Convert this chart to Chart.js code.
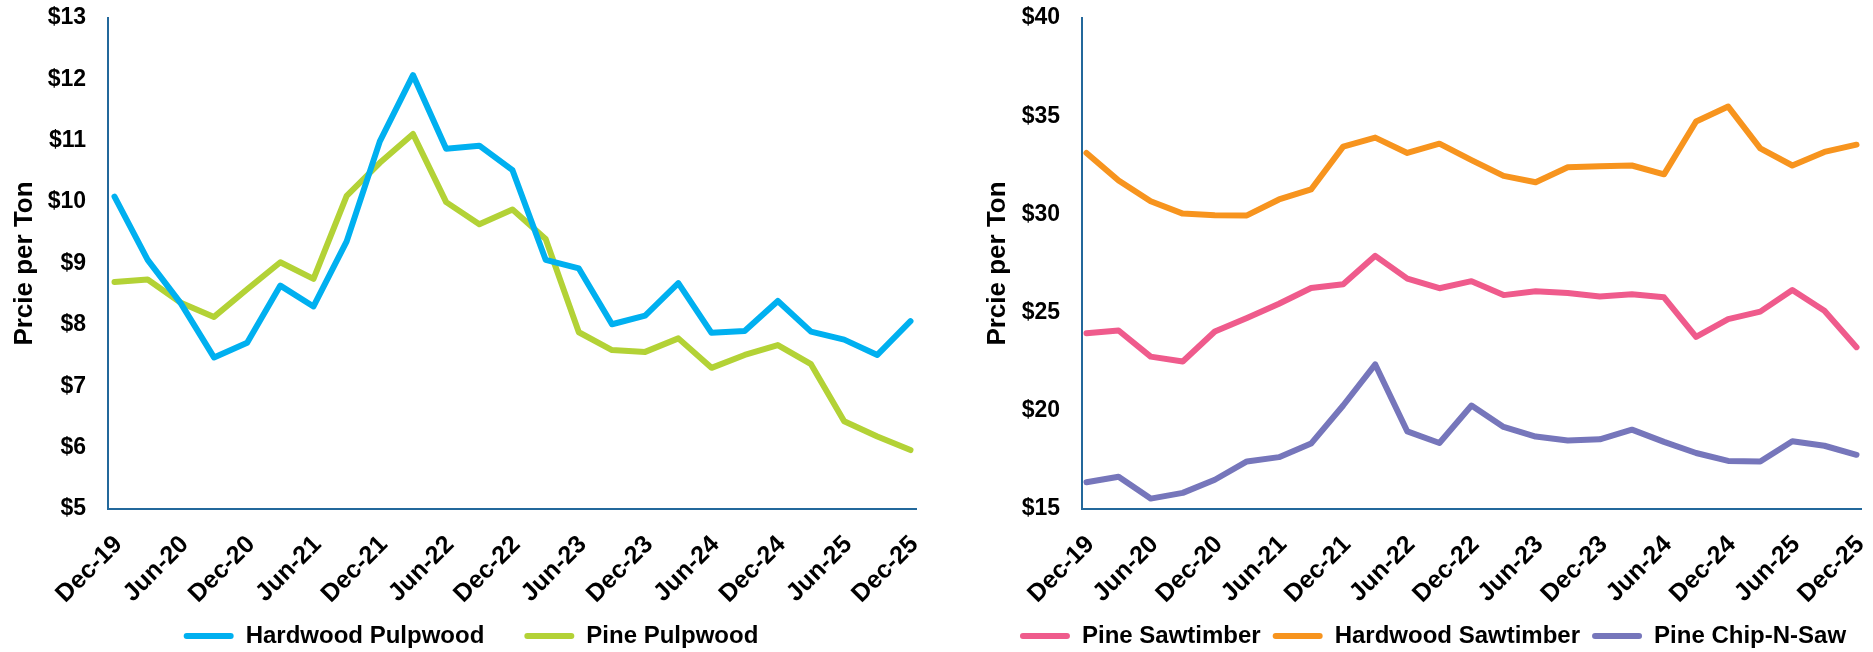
<!DOCTYPE html>
<html>
<head>
<meta charset="utf-8">
<script src="https://cdn.jsdelivr.net/npm/chart.js@4/dist/chart.umd.min.js"></script>
<style>
html,body{margin:0;padding:0;background:#fff;overflow:hidden;width:1873px;height:652px;}
#l{position:absolute;left:0;top:0;width:937px;height:658px;}
#r{position:absolute;left:970px;top:0;width:903px;height:658px;}
</style>
</head>
<body>
<div id="l"><canvas id="c1"></canvas></div>
<div id="r"><canvas id="c2"></canvas></div>
<script>
// Quarterly categories (labels shown every other quarter)
const categories = ['Dec-19','Mar-20','Jun-20','Sep-20','Dec-20','Mar-21','Jun-21','Sep-21','Dec-21','Mar-22','Jun-22','Sep-22','Dec-22','Mar-23','Jun-23','Sep-23','Dec-23','Mar-24','Jun-24','Sep-24','Dec-24','Mar-25','Jun-25','Sep-25','Dec-25'];

// Left panel series
const hardwoodPulpwood = [10.09,9.06,8.35,7.47,7.71,8.64,8.30,9.36,10.99,12.07,10.87,10.92,10.52,9.06,8.92,8.01,8.15,8.68,7.87,7.90,8.39,7.89,7.76,7.51,8.06];
const pinePulpwood     = [8.70,8.74,8.36,8.13,8.58,9.02,8.75,10.10,10.64,11.11,10.00,9.64,9.88,9.40,7.88,7.59,7.56,7.78,7.30,7.51,7.67,7.36,6.43,6.18,5.96];

// Right panel series
const pineSawtimber     = [23.95,24.09,22.76,22.51,24.04,24.73,25.45,26.25,26.44,27.89,26.73,26.24,26.60,25.89,26.09,26.00,25.82,25.93,25.78,23.76,24.67,25.05,26.15,25.09,23.24];
const hardwoodSawtimber = [33.13,31.73,30.67,30.04,29.96,29.95,30.76,31.27,33.45,33.91,33.13,33.60,32.76,31.96,31.64,32.40,32.45,32.49,32.04,34.73,35.49,33.36,32.49,33.18,33.55];
const pineChipNSaw      = [16.36,16.64,15.53,15.82,16.49,17.42,17.64,18.33,20.27,22.36,18.95,18.36,20.27,19.18,18.69,18.49,18.55,19.04,18.42,17.85,17.45,17.42,18.45,18.22,17.76];

// Axis tick settings
const leftYTicks  = {min: 5, max: 13, step: 1};
const rightYTicks = {min: 15, max: 40, step: 5};
const axisTitle = 'Prcie per Ton';

const FONT = '"Liberation Sans", Arial, sans-serif';
const AXIS_COLOR = '#23689b';
const LABEL_SHIFT = 0.12;

function pts(arr){ return arr.map((v,i)=>({x:i, y:v})); }

function ds(label, data, color){
  return {label, data: pts(data), borderColor: color, backgroundColor: color,
    borderWidth: 6, pointRadius: 0, tension: 0, borderCapStyle: 'round', borderJoinStyle: 'round', fill: false};
}

function zeroPad(s){ s.paddingLeft = 0; s.paddingRight = 0; s.paddingTop = 0; s.paddingBottom = 0; }

function makeChart(id, datasets, yt, o){
  return new Chart(document.getElementById(id), {
    type: 'line',
    data: {datasets},
    options: {
      responsive: true, maintainAspectRatio: false, animation: false,
      layout: {padding: {left: o.padLeft, right: o.padRight, top: 18, bottom: 0}},
      plugins: {
        tooltip: {enabled: false},
        legend: {
          position: 'bottom', align: 'center',
          labels: {
            font: {family: FONT, size: 24, weight: 'bold'}, color: '#000',
            boxWidth: 50, boxHeight: 6, useBorderRadius: true, borderRadius: 3,
            padding: o.legendPad,
            generateLabels: (chart) => chart.data.datasets.map((d,i)=>({
              text: d.label, fillStyle: d.borderColor, strokeStyle: d.borderColor,
              lineWidth: 0, hidden: false, datasetIndex: i, fontColor: '#000', borderRadius: 3
            }))
          }
        }
      },
      scales: {
        x: {
          type: 'linear', min: o.xMin, max: o.xMax,
          grid: {display: false, drawTicks: false},
          border: {display: true, color: AXIS_COLOR, width: 2},
          afterBuildTicks: (s) => { s.ticks = categories.map((c,i)=>({value: i + LABEL_SHIFT})).filter((t,i) => i % 2 === 0); },
          afterFit: (s) => { s.height = o.xHeight; zeroPad(s); s._computeLabelArea = () => null; },
          ticks: {
            autoSkip: false, minRotation: 45, maxRotation: 45, padding: 21,
            font: {family: FONT, size: 25, weight: 'bold'}, color: '#000',
            callback: (v) => categories[Math.round(v - LABEL_SHIFT)]
          }
        },
        y: {
          min: yt.min, max: yt.max,
          grid: {display: false, drawTicks: false},
          border: {display: true, color: AXIS_COLOR, width: 2},
          afterFit: (s) => { s.width = o.yWidth; zeroPad(s); },
          ticks: {
            stepSize: yt.step, padding: 22,
            font: {family: FONT, size: 23, weight: 'bold'}, color: '#000',
            callback: (v) => '$' + v
          },
          title: {display: true, text: axisTitle, color: '#000',
            font: {family: FONT, size: 26, weight: 'bold'}, padding: {top: o.titlePad, bottom: 0}}
        }
      }
    }
  });
}

makeChart('c1', [
  ds('Hardwood Pulpwood', hardwoodPulpwood, '#00b0f0'),
  ds('Pine Pulpwood', pinePulpwood, '#b3d236')
], leftYTicks, {padLeft: 26, padRight: 21, yWidth: 82, titlePad: -16.6, legendPad: 40, xHeight: 75, xMin: -0.196, xMax: 24.166});

makeChart('c2', [
  ds('Pine Sawtimber', pineSawtimber, '#ef5b8c'),
  ds('Hardwood Sawtimber', hardwoodSawtimber, '#f7941e'),
  ds('Pine Chip-N-Saw', pineChipNSaw, '#7676bb')
], rightYTicks, {padLeft: 35, padRight: 12, yWidth: 77, titlePad: -22.6, legendPad: 12, xHeight: 103, xMin: -0.14, xMax: 24.14});
</script>
</body>
</html>
